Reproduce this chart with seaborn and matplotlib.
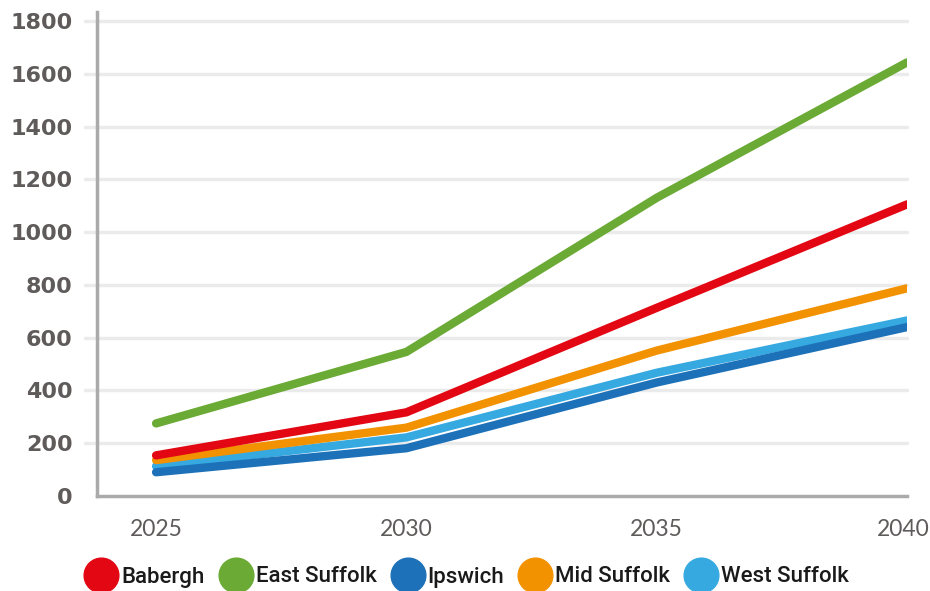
import matplotlib
matplotlib.use("Agg")
import matplotlib.pyplot as plt
from matplotlib.lines import Line2D
from matplotlib.transforms import ScaledTranslation
import seaborn as sns
import pandas as pd

years = [2025, 2030, 2035, 2040]
areas = ["Babergh", "East Suffolk", "Ipswich", "Mid Suffolk", "West Suffolk"]
babergh = [154, 317, 713, 1105]
east_suffolk = [275, 546, 1130, 1643]
ipswich = [90, 181, 430, 640]
mid_suffolk = [136, 259, 551, 787]
west_suffolk = [113, 222, 467, 665]
colors = ["#e30613", "#6aaa35", "#1d71b8", "#f39200", "#36a9e1"]
yticks = [0, 200, 400, 600, 800, 1000, 1200, 1400, 1600, 1800]

series = [babergh, east_suffolk, ipswich, mid_suffolk, west_suffolk]
rows = []
for name, vals in zip(areas, series):
    for yr, v in zip(years, vals):
        rows.append({"Year": yr, "Area": name, "Value": v})
df = pd.DataFrame(rows)
palette = dict(zip(areas, colors))

sns.set_style("white")
fig = plt.figure(figsize=(9.3, 5.91), dpi=100)
ax = fig.add_axes([97 / 930, 95 / 591, (907 - 97) / 930, (496 - 12) / 591])

draw_order = ["West Suffolk", "Mid Suffolk", "Ipswich", "East Suffolk", "Babergh"]
for i, name in enumerate(draw_order):
    sub = df[df["Area"] == name]
    sns.lineplot(data=sub, x="Year", y="Value", color=palette[name], linewidth=6,
                 solid_capstyle="round", solid_joinstyle="round", ax=ax,
                 legend=False, zorder=3 + i)

ax.set_xlim(2023.82, 2040)
ax.set_ylim(0, 1834)
ax.set_yticks(yticks)
ax.set_yticklabels([str(t) for t in yticks], fontsize=16, fontweight="bold",
                   color="#5f5b5b", family=["DejaVu Sans"])
ax.set_xticks([2023.82] + years)
ax.set_xticklabels([""] + [str(y) for y in years], fontsize=16.5, color="#5f5b5b",
                   family=["Lato", "DejaVu Sans"])
ax.set_xlabel("")
ax.set_ylabel("")
for t in yticks[1:]:
    ax.axhline(t, color="#ebebeb", linewidth=2.5, zorder=1, xmin=-0.015, clip_on=False)
ax.tick_params(axis="y", length=6.5, width=2, color="#aaaaaa", pad=11)
ax.tick_params(axis="x", length=8.6, width=2, color="#aaaaaa", pad=8)
last = ax.xaxis.get_major_ticks()[-1].label1
last.set_transform(last.get_transform() + ScaledTranslation(-4 / 100, 0, fig.dpi_scale_trans))
for s in ["top", "right"]:
    ax.spines[s].set_visible(False)
for s in ["left", "bottom"]:
    ax.spines[s].set_color("#aaaaaa")
    ax.spines[s].set_linewidth(2.5)
    ax.spines[s].set_zorder(2)

handles = [Line2D([0], [0], marker="o", linestyle="", markersize=25,
                  markerfacecolor=c, markeredgecolor=c) for c in colors]
leg = fig.legend(handles, areas, loc="center", bbox_to_anchor=(468 / 930, 1 - 577 / 591),
                 ncol=5, frameon=False, handletextpad=0.25, columnspacing=0.75,
                 handlelength=1.3, prop={"family": ["Roboto", "DejaVu Sans"],
                                         "size": 16, "weight": "medium"})
for t in leg.get_texts():
    t.set_color("#1a1a1a")

fig.savefig("out.png", dpi=100)
